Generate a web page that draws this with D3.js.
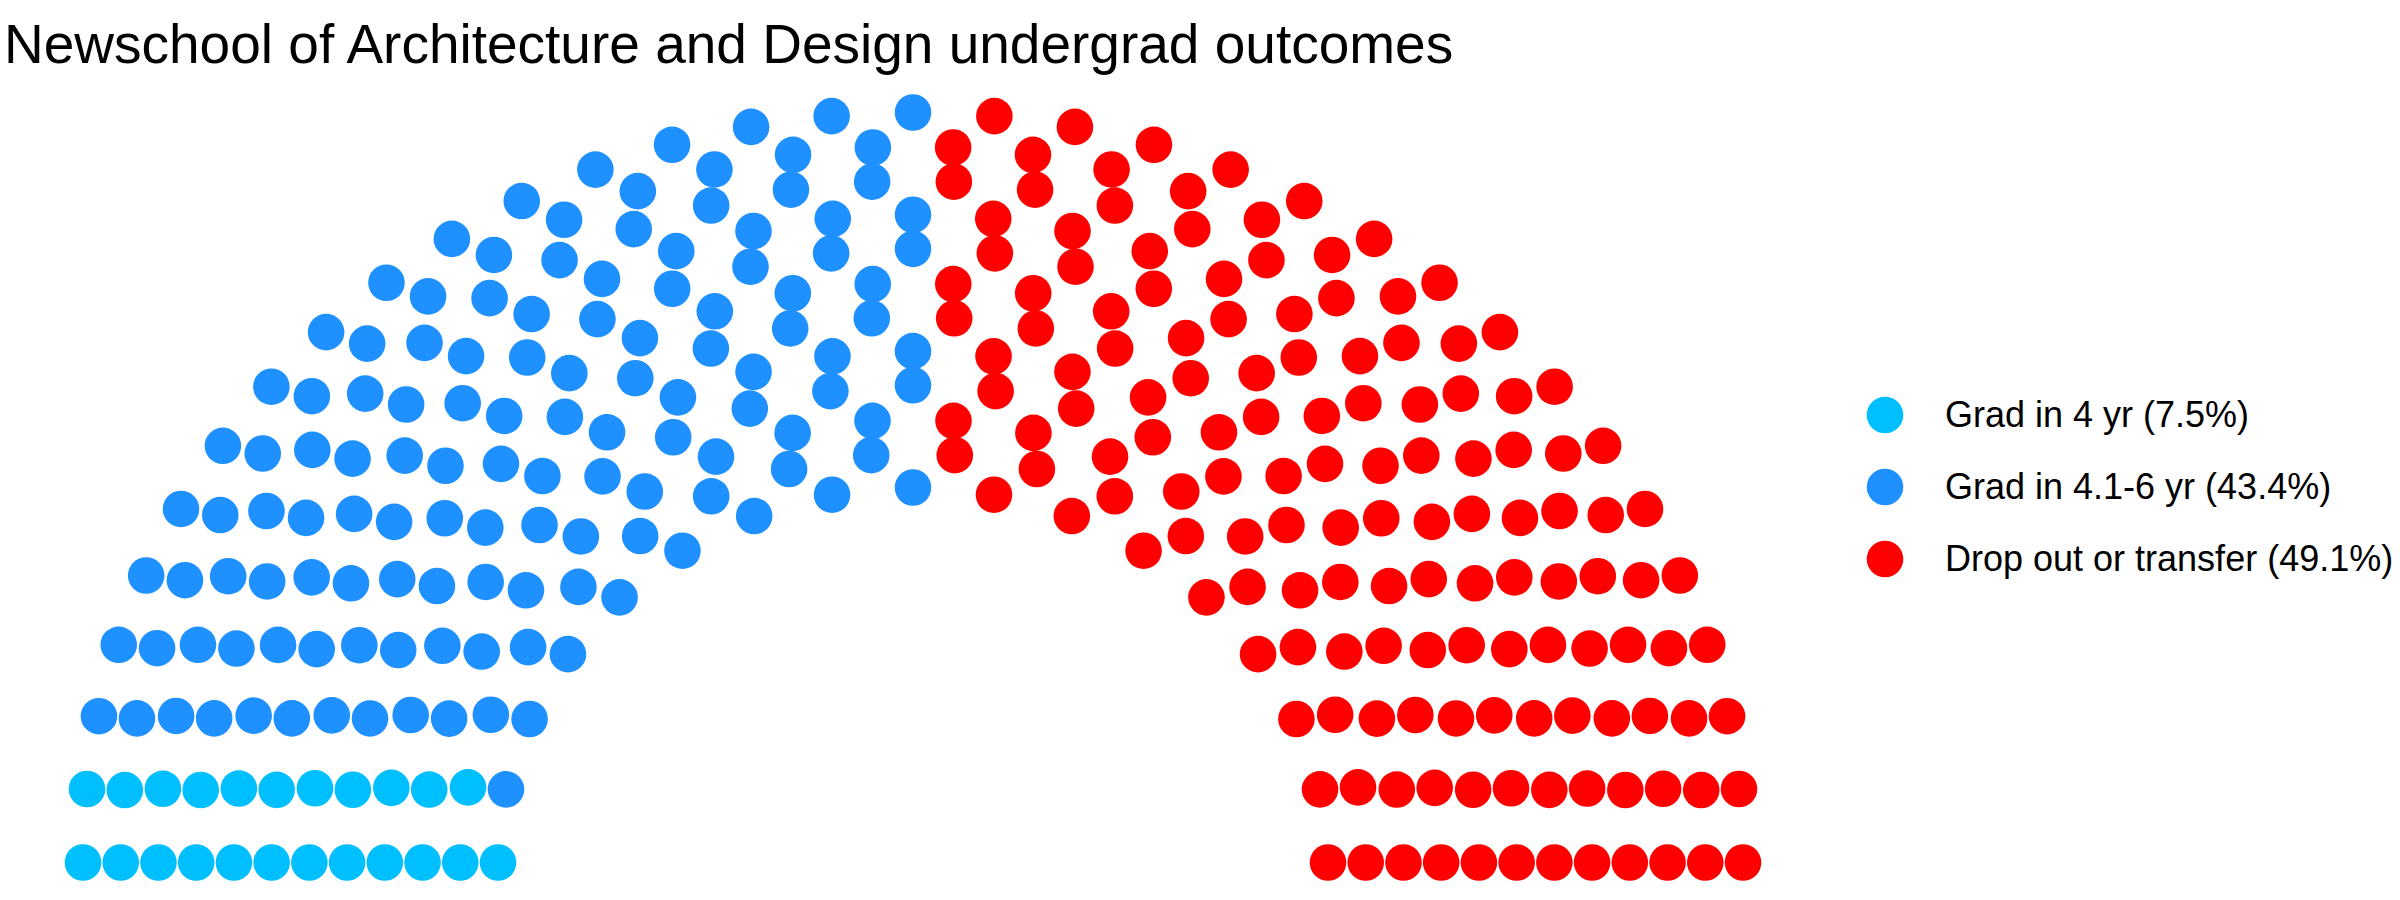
<!DOCTYPE html>
<html>
<head>
<meta charset="utf-8">
<script src="https://cdn.jsdelivr.net/npm/d3@7"></script>
<style>
  body { margin: 0; background: #fff; }
  text { font-family: "Liberation Sans", Arial, Helvetica, sans-serif; }
</style>
</head>
<body>
<div id="chart"></div>
<script>
// outcome groups, seat counts (out of 300) and colours
const groups = ["Grad in 4 yr (7.5%)", "Grad in 4.1-6 yr (43.4%)", "Drop out or transfer (49.1%)"]
const seats = [23, 130, 147]
const colors = ["#00BFFF", "#1E90FF", "#FF0000"]
const parlRows = 12

const width = 2400
const height = 900

const svg = d3.select("#chart").append("svg")
    .attr("width", width)
    .attr("height", height)

// semicircle parliament layout: rows with radius 1..2, seats per row
// proportional to the radius, then ordered left to right by angle
function parliamentLayout(total, rows) {
    const radii = d3.range(rows).map(i => 1 + i / (rows - 1))
    let left = total
    let pts = []
    radii.forEach((r, i) => {
        const n = Math.round(left * r / d3.sum(radii.slice(i)))
        left -= n
        for (let k = 0; k < n; k++) {
            const theta = n > 1 ? k * Math.PI / (n - 1) : 0
            pts.push({ x: r * Math.cos(theta), y: r * Math.sin(theta), row: i, theta: theta })
        }
    })
    pts.sort((a, b) => (b.theta - a.theta) || (b.row - a.row))
    return pts
}

const pts = parliamentLayout(d3.sum(seats), parlRows)
let idx = 0
seats.forEach((s, g) => {
    for (let j = 0; j < s; j++) pts[idx++].group = g
})

const xScale = d3.scaleLinear().domain([-2.2, 2.2]).range([0, 1826])
const yScale = d3.scaleLinear().domain([-0.1, 2.1]).range([900, 75])
const color = d3.scaleOrdinal().domain(d3.range(groups.length)).range(colors)

svg.append("g")
    .selectAll("circle")
    .data(pts)
    .join("circle")
    .attr("cx", d => xScale(d.x))
    .attr("cy", d => yScale(d.y))
    .attr("r", 18.3)
    .attr("fill", d => color(d.group))

// title
svg.append("text")
    .attr("x", 4)
    .attr("y", 63)
    .attr("font-size", 55)
    .attr("fill", "#000")
    .text("Newschool of Architecture and Design undergrad outcomes")

// legend
const legend = svg.append("g")
    .attr("transform", "translate(1885,415)")

const item = legend.selectAll("g")
    .data(groups)
    .join("g")
    .attr("transform", (d, i) => "translate(0," + i * 72 + ")")

item.append("circle")
    .attr("r", 18.3)
    .attr("fill", (d, i) => color(i))

item.append("text")
    .attr("x", 60)
    .attr("y", 12)
    .attr("font-size", 36)
    .attr("fill", "#000")
    .text(d => d)
</script>
</body>
</html>
